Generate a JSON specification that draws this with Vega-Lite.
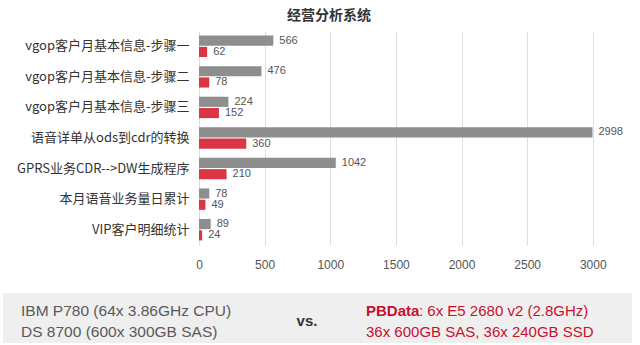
{
  "$schema": "https://vega.github.io/schema/vega-lite/v6.json",
  "padding": {"left": 3, "top": 9, "right": 0, "bottom": 0},
  "background": "white",
  "spacing": 23,
  "config": {
    "view": {"stroke": null},
    "font": "Liberation Sans"
  },
  "vconcat": [
    {
      "width": 634,
      "height": 214,
      "title": {
        "text": "经营分析系统",
        "font": "Noto Sans CJK SC",
        "fontSize": 14,
        "fontWeight": "bold",
        "color": "#333333",
        "anchor": "middle",
        "frame": "group",
        "offset": 8,
        "dx": 9
      },
      "data": {
        "values": [
          {"task": "vgop客户月基本信息-步骤一", "system": "IBM", "seconds": 566},
          {"task": "vgop客户月基本信息-步骤一", "system": "PBData", "seconds": 62},
          {"task": "vgop客户月基本信息-步骤二", "system": "IBM", "seconds": 476},
          {"task": "vgop客户月基本信息-步骤二", "system": "PBData", "seconds": 78},
          {"task": "vgop客户月基本信息-步骤三", "system": "IBM", "seconds": 224},
          {"task": "vgop客户月基本信息-步骤三", "system": "PBData", "seconds": 152},
          {"task": "语音详单从ods到cdr的转换", "system": "IBM", "seconds": 2998},
          {"task": "语音详单从ods到cdr的转换", "system": "PBData", "seconds": 360},
          {"task": "GPRS业务CDR-->DW生成程序", "system": "IBM", "seconds": 1042},
          {"task": "GPRS业务CDR-->DW生成程序", "system": "PBData", "seconds": 210},
          {"task": "本月语音业务量日累计", "system": "IBM", "seconds": 78},
          {"task": "本月语音业务量日累计", "system": "PBData", "seconds": 49},
          {"task": "VIP客户明细统计", "system": "IBM", "seconds": 89},
          {"task": "VIP客户明细统计", "system": "PBData", "seconds": 24}
        ]
      },
      "encoding": {
        "y": {
          "field": "task",
          "type": "nominal",
          "sort": null,
          "title": null,
          "scale": {"paddingInner": 0.3, "paddingOuter": 0.15},
          "axis": {
            "domain": false,
            "ticks": false,
            "labelFont": "Noto Sans CJK SC",
            "labelFontSize": 13,
            "labelColor": "#333333",
            "labelPadding": 10,
            "labelLimit": 300,
            "offset": -196
          }
        },
        "yOffset": {
          "field": "system",
          "type": "nominal",
          "sort": ["IBM", "PBData"],
          "scale": {"paddingInner": 0.1}
        },
        "x": {
          "field": "seconds",
          "type": "quantitative",
          "title": null,
          "scale": {"domain": [0, 3337], "range": [196, 634], "nice": false},
          "axis": {
            "values": [0, 500, 1000, 1500, 2000, 2500, 3000],
            "format": "d",
            "domain": false,
            "ticks": false,
            "grid": true,
            "gridColor": "#dedede",
            "labelFontSize": 12,
            "labelColor": "#555555",
            "labelPadding": 14,
            "labelFlush": false
          }
        }
      },
      "layer": [
        {
          "mark": {"type": "bar"},
          "encoding": {
            "color": {
              "field": "system",
              "type": "nominal",
              "legend": null,
              "scale": {"domain": ["IBM", "PBData"], "range": ["#8e8e8e", "#dc3545"]}
            }
          }
        },
        {
          "mark": {"type": "text", "align": "left", "baseline": "middle", "dx": 6, "fontSize": 11, "color": "#555555"},
          "encoding": {"text": {"field": "seconds", "type": "quantitative"}}
        }
      ]
    },
    {
      "width": 629,
      "height": 50,
      "view": {"fill": "#efefef", "stroke": null},
      "data": {
        "values": [
          {"col": 0, "line": 1, "part": "ibm", "label": "IBM P780 (64x 3.86GHz CPU)"},
          {"col": 0, "line": 2, "part": "ibm", "label": "DS 8700 (600x 300GB SAS)"},
          {"col": 1, "line": 1.5, "part": "vs", "label": "vs."},
          {"col": 2, "line": 1, "part": "brand", "label": "PBData"},
          {"col": 3, "line": 1, "part": "pb", "label": ": 6x E5 2680 v2 (2.8GHz)"},
          {"col": 2, "line": 2, "part": "pb", "label": "36x 600GB SAS, 36x 240GB SSD"}
        ]
      },
      "encoding": {
        "x": {
          "field": "col",
          "type": "quantitative",
          "axis": null,
          "scale": {"type": "linear", "domain": [0, 1, 2, 3], "range": [18, 304, 363, 416], "nice": false, "zero": false}
        },
        "y": {
          "field": "line",
          "type": "quantitative",
          "axis": null,
          "scale": {"domain": [0.143, 2.524], "reverse": true, "nice": false, "zero": false}
        },
        "text": {"field": "label", "type": "nominal"}
      },
      "layer": [
        {
          "transform": [{"filter": "datum.part === 'ibm'"}],
          "mark": {"type": "text", "align": "left", "baseline": "middle", "fontSize": 15.5, "color": "#5a5a5a"}
        },
        {
          "transform": [{"filter": "datum.part === 'vs'"}],
          "mark": {"type": "text", "align": "center", "baseline": "middle", "fontSize": 15, "fontWeight": "bold", "color": "#333333"}
        },
        {
          "transform": [{"filter": "datum.part === 'brand'"}],
          "mark": {"type": "text", "align": "left", "baseline": "middle", "fontSize": 15, "fontWeight": "bold", "color": "#c8102e"}
        },
        {
          "transform": [{"filter": "datum.part === 'pb'"}],
          "mark": {"type": "text", "align": "left", "baseline": "middle", "fontSize": 15, "color": "#c8102e"}
        }
      ]
    }
  ]
}
